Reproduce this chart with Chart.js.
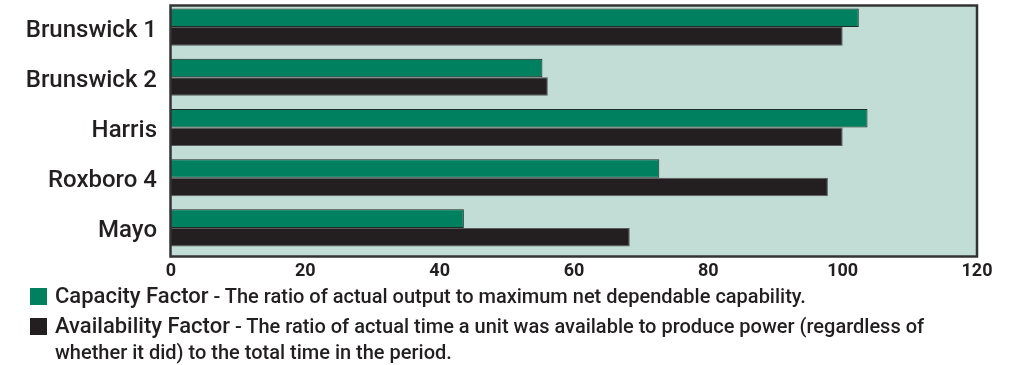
<!DOCTYPE html>
<html>
<head>
<meta charset="utf-8">
<script src="https://cdn.jsdelivr.net/npm/chart.js@4"></script>
<style>
  html, body { margin: 0; padding: 0; background: #fff; }
  #wrap { position: relative; width: 1011px; height: 365px; overflow: hidden; }
  #chart { position: absolute; left: 0; top: 0; }
  .legend { position: absolute; left: 55px; font-family: Roboto, sans-serif; font-weight: 500; color: #231f20; line-height: 24px; white-space: nowrap; }
  .legend .name { font-size: 22px; }
  .legend .desc { font-size: 20px; }
  .swatch { position: absolute; left: -25px; top: 4px; width: 17px; height: 17px; }
</style>
</head>
<body>
<div id="wrap">
  <canvas id="chart" width="1011" height="292"></canvas>
  <div class="legend" style="top:284px">
    <span class="swatch" style="background:#00805f"></span><span class="name">Capacity Factor</span><span class="desc"> - The ratio of actual output to maximum net dependable capability.</span>
  </div>
  <div class="legend" style="top:314px">
    <span class="swatch" style="background:#231f20"></span><span class="name">Availability Factor</span><span class="desc"> - The ratio of actual time a unit was available to produce power (regardless of<br>whether it did) to the total time in the period.</span>
  </div>
</div>
<script>
const units = ['Brunswick 1', 'Brunswick 2', 'Harris', 'Roxboro 4', 'Mayo'];
const capacityFactor = [102.4, 55.3, 103.7, 72.7, 43.6];
const availabilityFactor = [100.0, 56.1, 100.0, 97.8, 68.3];
const xTicks = [0, 20, 40, 60, 80, 100, 120];

// frame + pale fill behind bars, shifted down a little like the original
const frameShift = 3.5;
const plotFrame = {
    id: 'plotFrame',
    beforeDatasetsDraw(chart) {
        const { ctx, chartArea: a } = chart;
        ctx.save();
        ctx.fillStyle = '#c2ddd5';
        ctx.fillRect(a.left, a.top + frameShift, a.right - a.left, a.bottom - a.top);
        ctx.restore();
    },
    afterDatasetsDraw(chart) {
        const { ctx, chartArea: a } = chart;
        ctx.save();
        ctx.strokeStyle = '#333333';
        ctx.lineWidth = 2.5;
        ctx.strokeRect(a.left - 0.5, a.top + frameShift, a.right - a.left + 0.5, a.bottom - a.top);
        ctx.restore();
    },
};

const ctx = document.getElementById('chart').getContext('2d');
new Chart(ctx, {
    type: 'bar',
    data: {
        labels: units,
        datasets: [
            {
                label: 'Capacity Factor',
                data: capacityFactor,
                backgroundColor: '#00805f',
                borderColor: '#1d2a26',
                borderWidth: 1,
            },
            {
                label: 'Availability Factor',
                data: availabilityFactor,
                backgroundColor: '#231f20',
                borderColor: '#5a5a5a',
                borderWidth: 1,
            },
        ],
    },
    options: {
        indexAxis: 'y',
        responsive: false,
        animation: false,
        categoryPercentage: 0.74,
        barPercentage: 1.0,
        layout: { padding: { left: 0, right: 34, top: 2, bottom: 0 } },
        plugins: { legend: { display: false }, tooltip: { enabled: false } },
        scales: {
            x: {
                min: 0,
                max: 120,
                afterBuildTicks: (axis) => { axis.ticks = xTicks.map((v) => ({ value: v })); },
                afterFit: (axis) => {
                    axis.height = 39;
                    axis.paddingLeft = 0;
                    axis.paddingRight = 0;
                },
                grid: { display: false, drawTicks: false },
                border: { display: false },
                ticks: {
                    color: '#231f20',
                    padding: 8,
                    font: { family: 'Roboto', size: 18, weight: '700' },
                },
            },
            y: {
                afterFit: (axis) => {
                    axis.width = 171;
                    axis.paddingTop = 0;
                    axis.paddingBottom = 0;
                },
                grid: { display: false, drawTicks: false },
                border: { display: false },
                ticks: {
                    color: '#231f20',
                    padding: 14,
                    labelOffset: frameShift,
                    font: { family: 'Roboto', size: 24, weight: '500' },
                },
            },
        },
    },
    plugins: [plotFrame],
});
</script>
</body>
</html>
